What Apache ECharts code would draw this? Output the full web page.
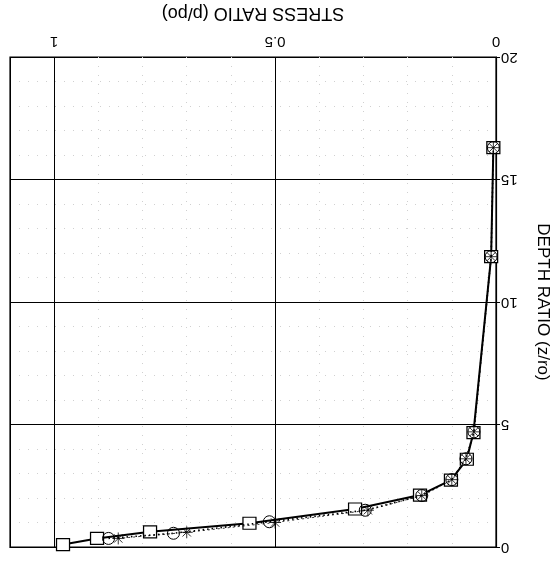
<!DOCTYPE html>
<html>
<head>
<meta charset="utf-8">
<script src="https://cdn.jsdelivr.net/npm/echarts@6/dist/echarts.min.js"></script>
<style>
html,body{margin:0;padding:0;background:#fff;}
#chart{width:557px;height:571px;}
</style>
</head>
<body>
<div id="chart"></div>
<script>
// Square series (solid line)
const sqStress = [0.98, 0.903, 0.783, 0.558, 0.319, 0.172, 0.102, 0.066, 0.051, 0.011, 0.006];
const sqDepth  = [0.1, 0.35, 0.62, 0.97, 1.55, 2.12, 2.73, 3.58, 4.67, 11.85, 16.3];
// Circle series (dotted line)
const ciStress = [0.877, 0.73, 0.513, 0.296, 0.168, 0.1, 0.068, 0.05, 0.011, 0.006];
const ciDepth  = [0.35, 0.56, 1.03, 1.5, 2.1, 2.75, 3.6, 4.7, 11.85, 16.3];
// Asterisk series
const stStress = [0.855, 0.70, 0.50, 0.29, 0.168, 0.1, 0.068, 0.05, 0.011, 0.006];
const stDepth  = [0.35, 0.6, 1.0, 1.5, 2.1, 2.75, 3.6, 4.7, 11.85, 16.3];

const stressTitle = 'STRESS RATIO (p/po)';
const depthTitle = 'DEPTH RATIO (z/ro)';

function pairs(xs, ys){ return xs.map((x,i)=>[x, ys[i]]); }

const font = '"Liberation Sans", Arial, sans-serif';
const chart = echarts.init(document.getElementById('chart'), null, {renderer:'canvas'});
chart.setOption({
  backgroundColor:'#fff',
  animation:false,
  grid:{left:10, right:61, top:57, bottom:24, containLabel:false, outerBoundsMode:'none',
        show:true, borderColor:'#000', borderWidth:1.2, backgroundColor:'transparent'},
  xAxis:{
    type:'value', position:'top', inverse:true, min:0, max:1.1, interval:0.5,
    name:stressTitle, nameLocation:'middle', nameGap:35, nameRotate:180,
    nameTextStyle:{fontFamily:font, fontSize:18, color:'#000'},
    axisLine:{show:true, lineStyle:{color:'#000', width:1.2}},
    axisTick:{show:false},
    axisLabel:{rotate:180, showMaxLabel:false, color:'#000', fontFamily:font, fontSize:15, margin:8,
      formatter:v=> (Math.abs(v-1.1)<1e-6 ? '' : String(v))},
    splitLine:{show:true, lineStyle:{color:'#000', width:1}},
    minorTick:{show:false, splitNumber:5},
    minorSplitLine:{show:true, lineStyle:{color:'#d0d0d0', type:[1,8], width:1}}
  },
  yAxis:{
    type:'value', position:'right', min:0, max:20, interval:5,
    name:depthTitle, nameLocation:'middle', nameGap:38, nameRotate:-90,
    nameTextStyle:{fontFamily:font, fontSize:17, color:'#000'},
    axisLine:{show:true, lineStyle:{color:'#000', width:1.2}},
    axisTick:{show:true, inside:false, length:4, lineStyle:{color:'#000'}},
    axisLabel:{rotate:180, color:'#000', fontFamily:font, fontSize:15, margin:5},
    splitLine:{show:true, lineStyle:{color:'#000', width:1}},
    minorTick:{show:false, splitNumber:5},
    minorSplitLine:{show:true, lineStyle:{color:'#d0d0d0', type:[1,8], width:1}}
  },
  series:[
    {
      type:'line', data:pairs(sqStress, sqDepth), symbol:'rect', symbolSize:[13,12],
      itemStyle:{color:'#fff', borderColor:'#000', borderWidth:1.2},
      lineStyle:{color:'#000', width:2}, z:3
    },
    {
      type:'line', data:pairs(ciStress, ciDepth), symbol:'circle', symbolSize:12,
      itemStyle:{color:'rgba(255,255,255,0)', borderColor:'#000', borderWidth:1},
      lineStyle:{color:'#000', width:1.6, type:[1.5,3]}, z:4
    },
    {
      type:'line', data:pairs(stStress, stDepth),
      symbol:'path://M0,5L10,5M5,0L5,10M1.5,1.5L8.5,8.5M8.5,1.5L1.5,8.5', symbolSize:12,
      itemStyle:{color:'none', borderColor:'#000', borderWidth:0.8},
      lineStyle:{color:'#000', width:0.8, type:[2,3]}, z:5
    }
  ]
});
</script>
</body>
</html>
